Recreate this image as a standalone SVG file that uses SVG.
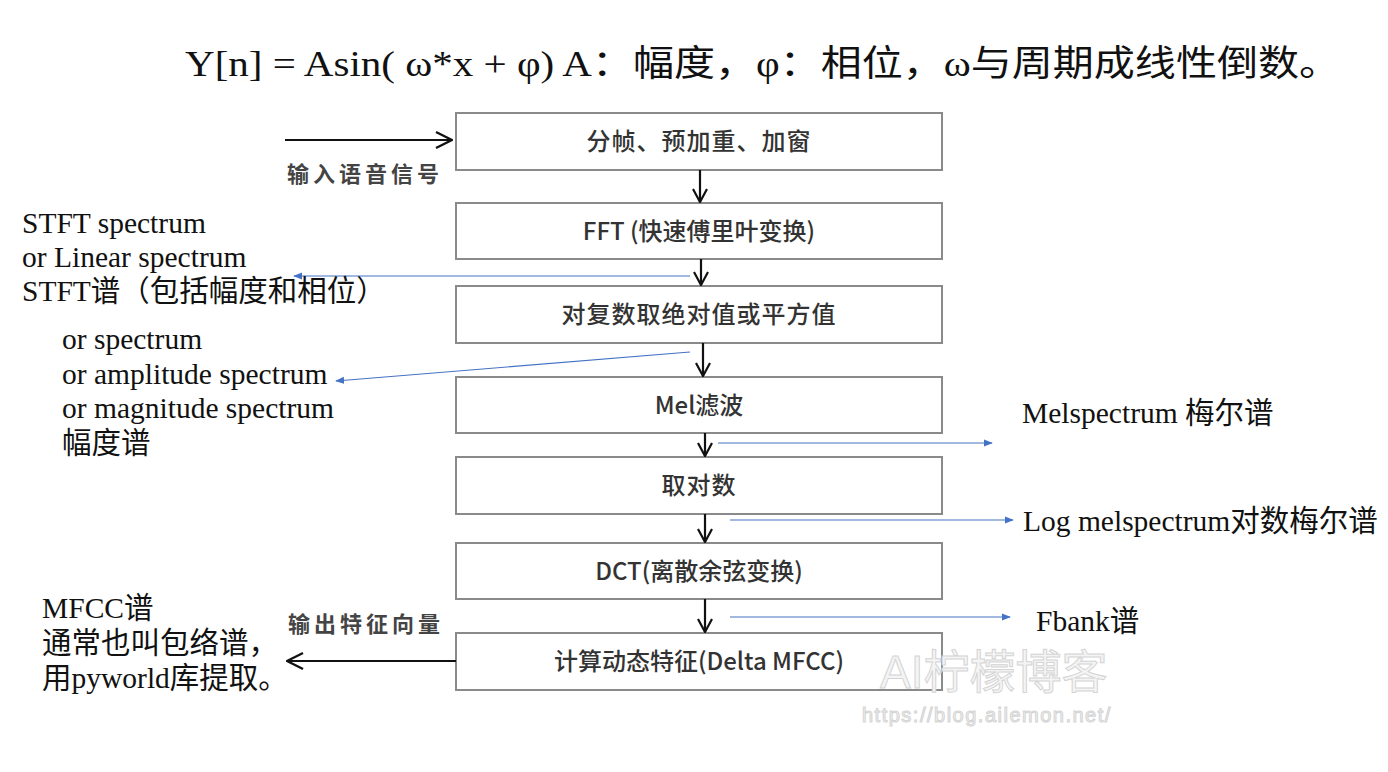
<svg xmlns="http://www.w3.org/2000/svg" width="1388" height="772" viewBox="0 0 1388 772">
<defs>
<style>
.box{fill:#ffffff;stroke:#8a8a8a;stroke-width:2}
.bt{font-family:"Noto Sans CJK SC","Noto Sans",sans-serif;font-size:24px;font-weight:500;fill:#333333;text-anchor:middle}
.lbl{font-family:"Noto Sans CJK SC","Noto Sans",sans-serif;font-size:22px;font-weight:700;fill:#444444;letter-spacing:4px}
.ser{font-family:"Liberation Serif","Noto Sans CJK SC",serif;font-size:29.5px;fill:#111111}
.blk{stroke:#111111;stroke-width:2.2;fill:none}
.blu{stroke:#4472C4;stroke-width:1.2;fill:none}
.wm{font-family:"Liberation Sans","Noto Sans CJK SC",sans-serif;fill:#f4f4f4;stroke:#d4d4d4;stroke-width:1}
</style>
<marker id="openB" viewBox="0 0 16 16" refX="15" refY="8" markerWidth="16" markerHeight="16" markerUnits="userSpaceOnUse" orient="auto">
<path d="M2,1 L15,8 L2,15" fill="none" stroke="#111111" stroke-width="2.2"/>
</marker>
<marker id="openL" viewBox="0 0 20 20" refX="19" refY="10" markerWidth="20" markerHeight="20" markerUnits="userSpaceOnUse" orient="auto">
<path d="M3,2 L19,10 L3,18" fill="none" stroke="#111111" stroke-width="2.4"/>
</marker>
<marker id="triB" viewBox="0 0 10 10" refX="9" refY="5" markerWidth="9" markerHeight="9" markerUnits="userSpaceOnUse" orient="auto">
<path d="M0,1 L10,5 L0,9 Z" fill="#4472C4"/>
</marker>
</defs>
<rect width="1388" height="772" fill="#ffffff"/>

<text x="185" y="76" font-family="Liberation Serif,'Noto Sans CJK SC',serif" font-size="36" fill="#111111" textLength="1155" lengthAdjust="spacingAndGlyphs">Y[n] = Asin( ω*x + φ)  A：幅度，φ：相位，ω与周期成线性倒数。</text>

<g id="n1"><rect class="box" x="456" y="113" width="486" height="57"/><text class="bt" x="699" y="150" letter-spacing="1">分帧、预加重、加窗</text></g>
<g id="n2"><rect class="box" x="456" y="203" width="486" height="56"/><text class="bt" x="699" y="240">FFT (快速傅里叶变换)</text></g>
<g id="n3"><rect class="box" x="456" y="286" width="486" height="57"/><text class="bt" x="699" y="323" letter-spacing="1">对复数取绝对值或平方值</text></g>
<g id="n4"><rect class="box" x="456" y="377" width="486" height="56"/><text class="bt" x="699" y="414">Mel滤波</text></g>
<g id="n5"><rect class="box" x="456" y="457" width="486" height="57"/><text class="bt" x="699" y="494" letter-spacing="1">取对数</text></g>
<g id="n6"><rect class="box" x="456" y="543" width="486" height="56"/><text class="bt" x="699" y="580">DCT(离散余弦变换)</text></g>
<g id="n7"><rect class="box" x="456" y="633" width="486" height="57"/><text class="bt" x="699" y="670">计算动态特征(Delta MFCC)</text></g>

<g id="connectors">
<line class="blk" x1="285" y1="140" x2="452" y2="140" marker-end="url(#openL)"/>
<line class="blk" x1="700" y1="170" x2="700" y2="202" marker-end="url(#openB)"/>
<line class="blk" x1="701" y1="259" x2="701" y2="285" marker-end="url(#openB)"/>
<line class="blk" x1="703" y1="343" x2="703" y2="376" marker-end="url(#openB)"/>
<line class="blk" x1="705" y1="433" x2="705" y2="456" marker-end="url(#openB)"/>
<line class="blk" x1="705" y1="514" x2="705" y2="542" marker-end="url(#openB)"/>
<line class="blk" x1="705" y1="599" x2="705" y2="632" marker-end="url(#openB)"/>
<line class="blk" x1="456" y1="661" x2="287" y2="661" marker-end="url(#openL)"/>
<line class="blu" x1="690" y1="276" x2="294" y2="276" marker-end="url(#triB)"/>
<line class="blu" x1="690" y1="352" x2="336" y2="381" marker-end="url(#triB)"/>
<line class="blu" x1="718" y1="443" x2="992" y2="443" marker-end="url(#triB)"/>
<line class="blu" x1="730" y1="520" x2="1013" y2="520" marker-end="url(#triB)"/>
<line class="blu" x1="730" y1="617" x2="1010" y2="617" marker-end="url(#triB)"/>
</g>

<g id="labels">
<text class="lbl" x="287" y="182">输入语音信号</text>
<text class="lbl" x="288" y="632">输出特征向量</text>
<text class="ser" x="22" y="233">STFT spectrum</text>
<text class="ser" x="22" y="267">or Linear spectrum</text>
<text class="ser" x="22" y="301">STFT谱（包括幅度和相位）</text>
<text class="ser" x="62" y="349">or spectrum</text>
<text class="ser" x="62" y="384">or amplitude spectrum</text>
<text class="ser" x="62" y="418">or magnitude spectrum</text>
<text class="ser" x="62" y="453">幅度谱</text>
<text class="ser" x="1022" y="423">Melspectrum 梅尔谱</text>
<text class="ser" x="1023" y="531">Log melspectrum对数梅尔谱</text>
<text class="ser" x="1036" y="631">Fbank谱</text>
<text class="ser" x="42" y="618">MFCC谱</text>
<text class="ser" x="42" y="653">通常也叫包络谱，</text>
<text class="ser" x="42" y="688">用pyworld库提取。</text>
</g>

<g id="watermark">
<text class="wm" x="880" y="688" font-size="46">AI柠檬博客</text>
<text class="wm" x="862" y="722" font-size="20" letter-spacing="1.5">https://blog.ailemon.net/</text>
</g>
</svg>
